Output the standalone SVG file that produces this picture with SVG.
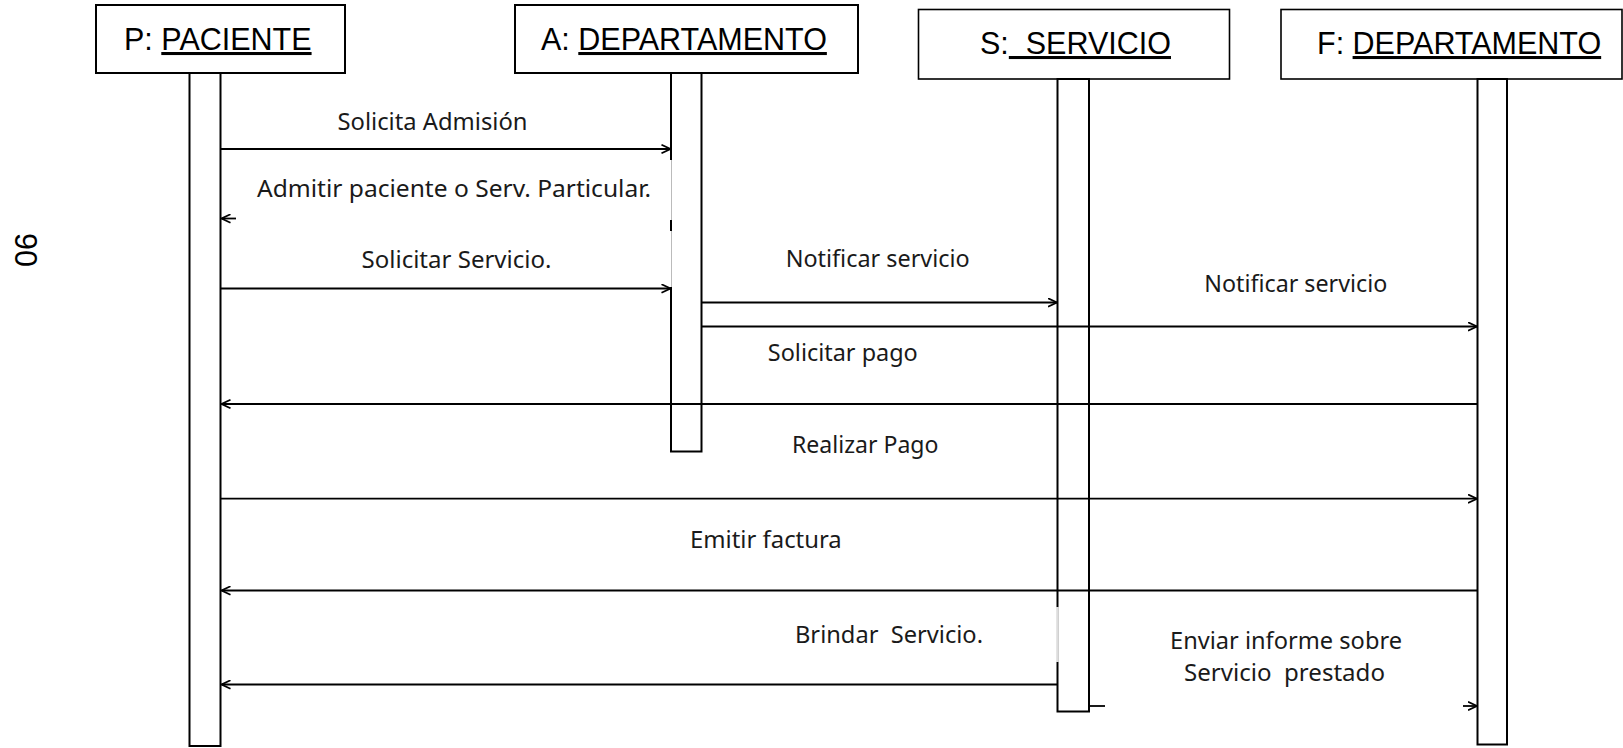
<svg xmlns="http://www.w3.org/2000/svg" width="1623" height="748" viewBox="0 0 1623 748">
  <style>
    .box { fill: #fff; stroke: #000; stroke-width: 2; }
    .box2 { fill: #fff; stroke: #000; stroke-width: 1.6; }
    .life { fill: #fff; stroke: #000; stroke-width: 2; }
    .hd { font-family: "Liberation Sans", Arial, sans-serif; font-size: 30.5px; fill: #000; }
    .ul { text-decoration: underline; }
    .lbl { font-family: "Noto Sans", "Liberation Sans", sans-serif; font-size: 24px; fill: #1a1a1a; }
    .msg { fill: none; stroke: #000; stroke-width: 1.8; }
    .gap { stroke: #fff; stroke-width: 2.6; }
    .gapl { stroke: #bbb; stroke-width: 1; }
  </style>
  <defs>
    <marker id="ah" viewBox="0 0 10 10" refX="9.5" refY="5" markerWidth="10" markerHeight="10" orient="auto" markerUnits="userSpaceOnUse">
      <path d="M0.5,0.8 L9.5,5 L0.5,9.2" fill="none" stroke="#000" stroke-width="1.8"/>
    </marker>
  </defs>
  <rect width="1623" height="748" fill="#fff"/>

  <text class="hd" font-size="29" transform="translate(15,250) rotate(90)" text-anchor="middle">90</text>

  <g id="node-P">
    <rect class="box" x="96" y="5" width="249" height="68"/>
    <text class="hd" x="124" y="50">P: <tspan class="ul">PACIENTE</tspan></text>
    <rect class="life" x="189.5" y="73" width="31" height="673"/>
  </g>

  <g id="node-A">
    <rect class="box" x="515" y="5" width="343" height="68"/>
    <text class="hd" x="541" y="50">A: <tspan class="ul">DEPARTAMENTO</tspan></text>
    <rect class="life" x="671" y="73" width="30.5" height="378.5"/>
    <line class="gap" x1="671" y1="160" x2="671" y2="220"/>
    <line class="gapl" x1="671.5" y1="160" x2="671.5" y2="220"/>
    <line class="gap" x1="671" y1="231" x2="671" y2="287"/>
    <line class="gapl" x1="671.5" y1="231" x2="671.5" y2="287"/>
  </g>

  <g id="node-S">
    <rect class="box2" x="918.5" y="9.5" width="311" height="69.5"/>
    <text class="hd" x="980" y="54" xml:space="preserve">S:<tspan class="ul">  SERVICIO</tspan></text>
    <rect class="life" x="1057.5" y="79" width="31.5" height="632.5"/>
    <line class="gap" x1="1057.5" y1="607" x2="1057.5" y2="662"/>
    <line class="gapl" x1="1058" y1="607" x2="1058" y2="662"/>
  </g>

  <g id="node-F">
    <rect class="box2" x="1281" y="9.5" width="341" height="69.5"/>
    <text class="hd" x="1317" y="54">F: <tspan class="ul">DEPARTAMENTO</tspan></text>
    <rect class="life" x="1477.5" y="79" width="29.5" height="665.5"/>
  </g>

  <g id="connectors">
    <line class="msg" x1="221" y1="149" x2="670.5" y2="149" marker-end="url(#ah)"/>
    <line class="msg" x1="236" y1="218.5" x2="221.5" y2="218.5" marker-end="url(#ah)"/>
    <line class="msg" x1="221" y1="288.5" x2="670.5" y2="288.5" marker-end="url(#ah)"/>
    <line class="msg" x1="701.5" y1="302.5" x2="1057" y2="302.5" marker-end="url(#ah)"/>
    <line class="msg" x1="701.5" y1="326.5" x2="1477" y2="326.5" marker-end="url(#ah)"/>
    <line class="msg" x1="1477.5" y1="404" x2="221.5" y2="404" marker-end="url(#ah)"/>
    <line class="msg" x1="221" y1="498.7" x2="1477" y2="498.7" marker-end="url(#ah)"/>
    <line class="msg" x1="1477.5" y1="590.5" x2="221.5" y2="590.5" marker-end="url(#ah)"/>
    <line class="msg" x1="1057.5" y1="684.5" x2="221.5" y2="684.5" marker-end="url(#ah)"/>
    <line class="msg" x1="1089" y1="706" x2="1105" y2="706"/>
    <line class="msg" x1="1463" y1="706" x2="1477" y2="706" marker-end="url(#ah)"/>

    <text class="lbl" x="337.5" y="129.5" textLength="190" lengthAdjust="spacingAndGlyphs">Solicita Admisión</text>
    <text class="lbl" x="257" y="197" textLength="394" lengthAdjust="spacingAndGlyphs">Admitir paciente o Serv. Particular.</text>
    <text class="lbl" x="361.5" y="267.7" textLength="190" lengthAdjust="spacingAndGlyphs">Solicitar Servicio.</text>
    <text class="lbl" x="785.7" y="266.7" textLength="184" lengthAdjust="spacingAndGlyphs">Notificar servicio</text>
    <text class="lbl" x="1204.3" y="291.7" textLength="183" lengthAdjust="spacingAndGlyphs">Notificar servicio</text>
    <text class="lbl" x="767.8" y="360.7" textLength="150" lengthAdjust="spacingAndGlyphs">Solicitar pago</text>
    <text class="lbl" x="792" y="453" textLength="146.5" lengthAdjust="spacingAndGlyphs">Realizar Pago</text>
    <text class="lbl" x="690" y="548.3" textLength="151.7" lengthAdjust="spacingAndGlyphs">Emitir factura</text>
    <text class="lbl" x="795" y="643" textLength="188" lengthAdjust="spacingAndGlyphs" xml:space="preserve">Brindar  Servicio.</text>
    <text class="lbl" x="1170" y="649.3" textLength="232" lengthAdjust="spacingAndGlyphs">Enviar informe sobre</text>
    <text class="lbl" x="1184" y="680.7" textLength="201" lengthAdjust="spacingAndGlyphs" xml:space="preserve">Servicio  prestado</text>
  </g>
</svg>
